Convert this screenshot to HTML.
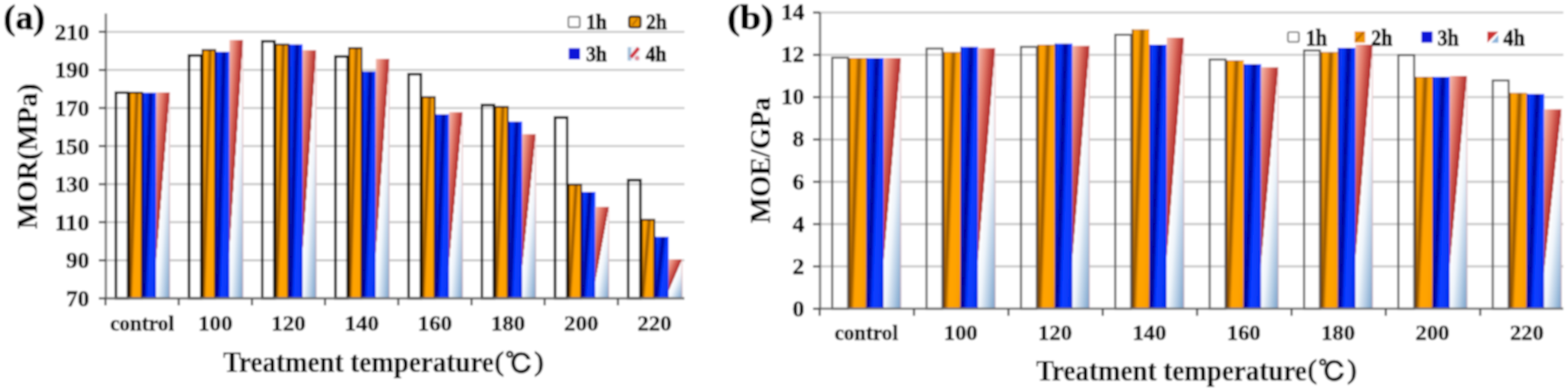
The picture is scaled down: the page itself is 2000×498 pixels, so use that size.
<!DOCTYPE html><html><head><meta charset="utf-8"><style>html,body{margin:0;padding:0;background:#fff;width:2000px;height:498px;overflow:hidden}svg{display:block;background:#fff}text{font-family:"Liberation Serif","Noto Serif CJK SC",serif;fill:#000;stroke:#000;stroke-width:1.4px}</style></head><body>
<svg width="2000" height="498" viewBox="0 0 2000 498">

<defs>
 <linearGradient id="gO" x1="0" y1="0" x2="0.8" y2="0.4" spreadMethod="repeat">
  <stop offset="0" stop-color="#ffa400"/>
  <stop offset="0.38" stop-color="#fb9e00"/>
  <stop offset="0.6" stop-color="#925400"/>
  <stop offset="0.8" stop-color="#ffa200"/>
  <stop offset="1" stop-color="#ffa400"/>
 </linearGradient>
 <linearGradient id="gB" x1="0" y1="0" x2="0.8" y2="0.4" spreadMethod="repeat">
  <stop offset="0" stop-color="#0a40ff"/>
  <stop offset="0.36" stop-color="#0532f2"/>
  <stop offset="0.62" stop-color="#000090"/>
  <stop offset="0.84" stop-color="#0536ff"/>
  <stop offset="1" stop-color="#0a40ff"/>
 </linearGradient>
 <linearGradient id="gR" x1="0" y1="0" x2="0.8924" y2="1.0883">
  <stop offset="0" stop-color="#f4bcb0"/>
  <stop offset="0.22" stop-color="#e07666"/>
  <stop offset="0.44" stop-color="#b02828"/>
  <stop offset="0.4506" stop-color="#ffffff"/>
  <stop offset="0.6" stop-color="#eef4fa"/>
  <stop offset="0.8" stop-color="#b2cbe4"/>
  <stop offset="1" stop-color="#729ec9"/>
 </linearGradient>
</defs>
<defs><filter id="bl" x="0" y="0" width="1" height="1"><feGaussianBlur stdDeviation="0.8"/></filter></defs><g filter="url(#bl)"><rect width="2000" height="498" fill="#fff"/>
<line x1="135" y1="332.39" x2="873" y2="332.39" stroke="#c8c8c8" stroke-width="2.6"/>
<line x1="135" y1="283.77" x2="873" y2="283.77" stroke="#c8c8c8" stroke-width="2.6"/>
<line x1="135" y1="235.16" x2="873" y2="235.16" stroke="#c8c8c8" stroke-width="2.6"/>
<line x1="135" y1="186.54" x2="873" y2="186.54" stroke="#c8c8c8" stroke-width="2.6"/>
<line x1="135" y1="137.93" x2="873" y2="137.93" stroke="#c8c8c8" stroke-width="2.6"/>
<line x1="135" y1="89.31" x2="873" y2="89.31" stroke="#c8c8c8" stroke-width="2.6"/>
<line x1="135" y1="40.7" x2="873" y2="40.7" stroke="#c8c8c8" stroke-width="2.6"/>
<rect x="147.8" y="118.4" width="15.5" height="262.6" fill="none" stroke="#000" stroke-width="3.2"/>
<rect x="164.3" y="117.4" width="17.5" height="263.6" fill="url(#gO)"/>
<rect x="165.1" y="118.2" width="15.9" height="262.8" fill="none" stroke="#1a0c00" stroke-width="2.4" stroke-opacity="0.9"/>
<rect x="181.8" y="118.4" width="17.5" height="262.6" fill="url(#gB)"/>
<rect x="181.8" y="118.4" width="1.6" height="262.6" fill="#00008a"/>
<rect x="199.3" y="118" width="17.5" height="263" fill="url(#gR)"/>
<rect x="215.6" y="118" width="1.2" height="263" fill="#e8a8a8" opacity="0.7"/>
<rect x="241.16" y="70.8" width="15.5" height="310.2" fill="none" stroke="#000" stroke-width="3.2"/>
<rect x="257.66" y="63.1" width="17.5" height="317.9" fill="url(#gO)"/>
<rect x="258.46" y="63.9" width="15.9" height="317.1" fill="none" stroke="#1a0c00" stroke-width="2.4" stroke-opacity="0.9"/>
<rect x="275.16" y="66.2" width="17.5" height="314.8" fill="url(#gB)"/>
<rect x="275.16" y="66.2" width="1.6" height="314.8" fill="#00008a"/>
<rect x="292.66" y="51.1" width="17.5" height="329.9" fill="url(#gR)"/>
<rect x="308.96" y="51.1" width="1.2" height="329.9" fill="#e8a8a8" opacity="0.7"/>
<rect x="334.52" y="52.7" width="15.5" height="328.3" fill="none" stroke="#000" stroke-width="3.2"/>
<rect x="351.02" y="56.1" width="17.5" height="324.9" fill="url(#gO)"/>
<rect x="351.82" y="56.9" width="15.9" height="324.1" fill="none" stroke="#1a0c00" stroke-width="2.4" stroke-opacity="0.9"/>
<rect x="368.52" y="56.7" width="17.5" height="324.3" fill="url(#gB)"/>
<rect x="368.52" y="56.7" width="1.6" height="324.3" fill="#00008a"/>
<rect x="386.02" y="64.1" width="17.5" height="316.9" fill="url(#gR)"/>
<rect x="402.32" y="64.1" width="1.2" height="316.9" fill="#e8a8a8" opacity="0.7"/>
<rect x="427.88" y="72.2" width="15.5" height="308.8" fill="none" stroke="#000" stroke-width="3.2"/>
<rect x="444.38" y="60.7" width="17.5" height="320.3" fill="url(#gO)"/>
<rect x="445.18" y="61.5" width="15.9" height="319.5" fill="none" stroke="#1a0c00" stroke-width="2.4" stroke-opacity="0.9"/>
<rect x="461.88" y="91.3" width="17.5" height="289.7" fill="url(#gB)"/>
<rect x="461.88" y="91.3" width="1.6" height="289.7" fill="#00008a"/>
<rect x="479.38" y="75.2" width="17.5" height="305.8" fill="url(#gR)"/>
<rect x="495.68" y="75.2" width="1.2" height="305.8" fill="#e8a8a8" opacity="0.7"/>
<rect x="521.24" y="94.7" width="15.5" height="286.3" fill="none" stroke="#000" stroke-width="3.2"/>
<rect x="537.74" y="123.2" width="17.5" height="257.8" fill="url(#gO)"/>
<rect x="538.54" y="124" width="15.9" height="257" fill="none" stroke="#1a0c00" stroke-width="2.4" stroke-opacity="0.9"/>
<rect x="555.24" y="145.9" width="17.5" height="235.1" fill="url(#gB)"/>
<rect x="555.24" y="145.9" width="1.6" height="235.1" fill="#00008a"/>
<rect x="572.74" y="143.3" width="17.5" height="237.7" fill="url(#gR)"/>
<rect x="589.04" y="143.3" width="1.2" height="237.7" fill="#e8a8a8" opacity="0.7"/>
<rect x="614.6" y="134.2" width="15.5" height="246.8" fill="none" stroke="#000" stroke-width="3.2"/>
<rect x="631.1" y="135.8" width="17.5" height="245.2" fill="url(#gO)"/>
<rect x="631.9" y="136.6" width="15.9" height="244.4" fill="none" stroke="#1a0c00" stroke-width="2.4" stroke-opacity="0.9"/>
<rect x="648.6" y="155.3" width="17.5" height="225.7" fill="url(#gB)"/>
<rect x="648.6" y="155.3" width="1.6" height="225.7" fill="#00008a"/>
<rect x="666.1" y="171.4" width="17.5" height="209.6" fill="url(#gR)"/>
<rect x="682.4" y="171.4" width="1.2" height="209.6" fill="#e8a8a8" opacity="0.7"/>
<rect x="707.96" y="150.1" width="15.5" height="230.9" fill="none" stroke="#000" stroke-width="3.2"/>
<rect x="724.46" y="235.1" width="17.5" height="145.9" fill="url(#gO)"/>
<rect x="725.26" y="235.9" width="15.9" height="145.1" fill="none" stroke="#1a0c00" stroke-width="2.4" stroke-opacity="0.9"/>
<rect x="741.96" y="245.1" width="17.5" height="135.9" fill="url(#gB)"/>
<rect x="741.96" y="245.1" width="1.6" height="135.9" fill="#00008a"/>
<rect x="759.46" y="264.2" width="17.5" height="116.8" fill="url(#gR)"/>
<rect x="775.76" y="264.2" width="1.2" height="116.8" fill="#e8a8a8" opacity="0.7"/>
<rect x="801.32" y="230" width="15.5" height="151" fill="none" stroke="#000" stroke-width="3.2"/>
<rect x="817.82" y="279.9" width="17.5" height="101.1" fill="url(#gO)"/>
<rect x="818.62" y="280.7" width="15.9" height="100.3" fill="none" stroke="#1a0c00" stroke-width="2.4" stroke-opacity="0.9"/>
<rect x="835.32" y="302.4" width="17.5" height="78.6" fill="url(#gB)"/>
<rect x="835.32" y="302.4" width="1.6" height="78.6" fill="#00008a"/>
<rect x="852.82" y="331.2" width="17.5" height="49.8" fill="url(#gR)"/>
<rect x="869.12" y="331.2" width="1.2" height="49.8" fill="#e8a8a8" opacity="0.7"/>
<line x1="135" y1="17.3" x2="135" y2="382" stroke="#707070" stroke-width="2.8"/>
<line x1="134" y1="381" x2="873" y2="381" stroke="#707070" stroke-width="2.8"/>
<line x1="126" y1="381" x2="135" y2="381" stroke="#444" stroke-width="2.6"/>
<line x1="126" y1="332.39" x2="135" y2="332.39" stroke="#444" stroke-width="2.6"/>
<line x1="126" y1="283.77" x2="135" y2="283.77" stroke="#444" stroke-width="2.6"/>
<line x1="126" y1="235.16" x2="135" y2="235.16" stroke="#444" stroke-width="2.6"/>
<line x1="126" y1="186.54" x2="135" y2="186.54" stroke="#444" stroke-width="2.6"/>
<line x1="126" y1="137.93" x2="135" y2="137.93" stroke="#444" stroke-width="2.6"/>
<line x1="126" y1="89.31" x2="135" y2="89.31" stroke="#444" stroke-width="2.6"/>
<line x1="126" y1="40.7" x2="135" y2="40.7" stroke="#444" stroke-width="2.6"/>
<line x1="134.6" y1="381" x2="134.6" y2="390" stroke="#444" stroke-width="2.6"/>
<line x1="227.96" y1="381" x2="227.96" y2="390" stroke="#444" stroke-width="2.6"/>
<line x1="321.32" y1="381" x2="321.32" y2="390" stroke="#444" stroke-width="2.6"/>
<line x1="414.68" y1="381" x2="414.68" y2="390" stroke="#444" stroke-width="2.6"/>
<line x1="508.04" y1="381" x2="508.04" y2="390" stroke="#444" stroke-width="2.6"/>
<line x1="601.4" y1="381" x2="601.4" y2="390" stroke="#444" stroke-width="2.6"/>
<line x1="694.76" y1="381" x2="694.76" y2="390" stroke="#444" stroke-width="2.6"/>
<line x1="788.12" y1="381" x2="788.12" y2="390" stroke="#444" stroke-width="2.6"/>
<line x1="1046" y1="340.17" x2="1994" y2="340.17" stroke="#c8c8c8" stroke-width="2.6"/>
<line x1="1046" y1="286.14" x2="1994" y2="286.14" stroke="#c8c8c8" stroke-width="2.6"/>
<line x1="1046" y1="232.11" x2="1994" y2="232.11" stroke="#c8c8c8" stroke-width="2.6"/>
<line x1="1046" y1="178.09" x2="1994" y2="178.09" stroke="#c8c8c8" stroke-width="2.6"/>
<line x1="1046" y1="124.06" x2="1994" y2="124.06" stroke="#c8c8c8" stroke-width="2.6"/>
<line x1="1046" y1="70.03" x2="1994" y2="70.03" stroke="#c8c8c8" stroke-width="2.6"/>
<line x1="1046" y1="16" x2="1994" y2="16" stroke="#c8c8c8" stroke-width="2.6"/>
<rect x="1061.5" y="73.7" width="20.2" height="320.5" fill="none" stroke="#5a5a5a" stroke-width="2.6"/>
<rect x="1082.7" y="74.1" width="22.2" height="320.1" fill="url(#gO)"/>
<rect x="1082.7" y="74.1" width="1.8" height="320.1" fill="#5a3400"/>
<rect x="1082.7" y="74.1" width="22.2" height="1.2" fill="#a06000" opacity="0.6"/>
<rect x="1104.9" y="74.1" width="22.2" height="320.1" fill="url(#gB)"/>
<rect x="1104.9" y="74.1" width="1.6" height="320.1" fill="#00008a"/>
<rect x="1127.1" y="74.1" width="22.2" height="320.1" fill="url(#gR)"/>
<rect x="1148.1" y="74.1" width="1.2" height="320.1" fill="#e8a8a8" opacity="0.7"/>
<rect x="1181.86" y="62" width="20.2" height="332.2" fill="none" stroke="#5a5a5a" stroke-width="2.6"/>
<rect x="1203.06" y="66.6" width="22.2" height="327.6" fill="url(#gO)"/>
<rect x="1203.06" y="66.6" width="1.8" height="327.6" fill="#5a3400"/>
<rect x="1203.06" y="66.6" width="22.2" height="1.2" fill="#a06000" opacity="0.6"/>
<rect x="1225.26" y="59.8" width="22.2" height="334.4" fill="url(#gB)"/>
<rect x="1225.26" y="59.8" width="1.6" height="334.4" fill="#00008a"/>
<rect x="1247.46" y="61.5" width="22.2" height="332.7" fill="url(#gR)"/>
<rect x="1268.46" y="61.5" width="1.2" height="332.7" fill="#e8a8a8" opacity="0.7"/>
<rect x="1302.22" y="59.9" width="20.2" height="334.3" fill="none" stroke="#5a5a5a" stroke-width="2.6"/>
<rect x="1323.42" y="57" width="22.2" height="337.2" fill="url(#gO)"/>
<rect x="1323.42" y="57" width="1.8" height="337.2" fill="#5a3400"/>
<rect x="1323.42" y="57" width="22.2" height="1.2" fill="#a06000" opacity="0.6"/>
<rect x="1345.62" y="55.7" width="22.2" height="338.5" fill="url(#gB)"/>
<rect x="1345.62" y="55.7" width="1.6" height="338.5" fill="#00008a"/>
<rect x="1367.82" y="58.6" width="22.2" height="335.6" fill="url(#gR)"/>
<rect x="1388.82" y="58.6" width="1.2" height="335.6" fill="#e8a8a8" opacity="0.7"/>
<rect x="1422.58" y="44.3" width="20.2" height="349.9" fill="none" stroke="#5a5a5a" stroke-width="2.6"/>
<rect x="1443.78" y="37.7" width="22.2" height="356.5" fill="url(#gO)"/>
<rect x="1443.78" y="37.7" width="1.8" height="356.5" fill="#5a3400"/>
<rect x="1443.78" y="37.7" width="22.2" height="1.2" fill="#a06000" opacity="0.6"/>
<rect x="1465.98" y="57" width="22.2" height="337.2" fill="url(#gB)"/>
<rect x="1465.98" y="57" width="1.6" height="337.2" fill="#00008a"/>
<rect x="1488.18" y="48.1" width="22.2" height="346.1" fill="url(#gR)"/>
<rect x="1509.18" y="48.1" width="1.2" height="346.1" fill="#e8a8a8" opacity="0.7"/>
<rect x="1542.94" y="76" width="20.2" height="318.2" fill="none" stroke="#5a5a5a" stroke-width="2.6"/>
<rect x="1564.14" y="77" width="22.2" height="317.2" fill="url(#gO)"/>
<rect x="1564.14" y="77" width="1.8" height="317.2" fill="#5a3400"/>
<rect x="1564.14" y="77" width="22.2" height="1.2" fill="#a06000" opacity="0.6"/>
<rect x="1586.34" y="81.9" width="22.2" height="312.3" fill="url(#gB)"/>
<rect x="1586.34" y="81.9" width="1.6" height="312.3" fill="#00008a"/>
<rect x="1608.54" y="85.9" width="22.2" height="308.3" fill="url(#gR)"/>
<rect x="1629.54" y="85.9" width="1.2" height="308.3" fill="#e8a8a8" opacity="0.7"/>
<rect x="1663.3" y="64.4" width="20.2" height="329.8" fill="none" stroke="#5a5a5a" stroke-width="2.6"/>
<rect x="1684.5" y="66.6" width="22.2" height="327.6" fill="url(#gO)"/>
<rect x="1684.5" y="66.6" width="1.8" height="327.6" fill="#5a3400"/>
<rect x="1684.5" y="66.6" width="22.2" height="1.2" fill="#a06000" opacity="0.6"/>
<rect x="1706.7" y="61" width="22.2" height="333.2" fill="url(#gB)"/>
<rect x="1706.7" y="61" width="1.6" height="333.2" fill="#00008a"/>
<rect x="1728.9" y="57" width="22.2" height="337.2" fill="url(#gR)"/>
<rect x="1749.9" y="57" width="1.2" height="337.2" fill="#e8a8a8" opacity="0.7"/>
<rect x="1783.66" y="70.3" width="20.2" height="323.9" fill="none" stroke="#5a5a5a" stroke-width="2.6"/>
<rect x="1804.86" y="98.2" width="22.2" height="296" fill="url(#gO)"/>
<rect x="1804.86" y="98.2" width="1.8" height="296" fill="#5a3400"/>
<rect x="1804.86" y="98.2" width="22.2" height="1.2" fill="#a06000" opacity="0.6"/>
<rect x="1827.06" y="98.2" width="22.2" height="296" fill="url(#gB)"/>
<rect x="1827.06" y="98.2" width="1.6" height="296" fill="#00008a"/>
<rect x="1849.26" y="97" width="22.2" height="297.2" fill="url(#gR)"/>
<rect x="1870.26" y="97" width="1.2" height="297.2" fill="#e8a8a8" opacity="0.7"/>
<rect x="1904.02" y="102.8" width="20.2" height="291.4" fill="none" stroke="#5a5a5a" stroke-width="2.6"/>
<rect x="1925.22" y="118.7" width="22.2" height="275.5" fill="url(#gO)"/>
<rect x="1925.22" y="118.7" width="1.8" height="275.5" fill="#5a3400"/>
<rect x="1925.22" y="118.7" width="22.2" height="1.2" fill="#a06000" opacity="0.6"/>
<rect x="1947.42" y="119.9" width="22.2" height="274.3" fill="url(#gB)"/>
<rect x="1947.42" y="119.9" width="1.6" height="274.3" fill="#00008a"/>
<rect x="1969.62" y="139.6" width="22.2" height="254.6" fill="url(#gR)"/>
<rect x="1990.62" y="139.6" width="1.2" height="254.6" fill="#e8a8a8" opacity="0.7"/>
<line x1="1046" y1="16" x2="1046" y2="395.2" stroke="#707070" stroke-width="2.8"/>
<line x1="1045" y1="394.2" x2="1994" y2="394.2" stroke="#707070" stroke-width="2.8"/>
<line x1="1037" y1="394.2" x2="1046" y2="394.2" stroke="#444" stroke-width="2.6"/>
<line x1="1037" y1="340.17" x2="1046" y2="340.17" stroke="#444" stroke-width="2.6"/>
<line x1="1037" y1="286.14" x2="1046" y2="286.14" stroke="#444" stroke-width="2.6"/>
<line x1="1037" y1="232.11" x2="1046" y2="232.11" stroke="#444" stroke-width="2.6"/>
<line x1="1037" y1="178.09" x2="1046" y2="178.09" stroke="#444" stroke-width="2.6"/>
<line x1="1037" y1="124.06" x2="1046" y2="124.06" stroke="#444" stroke-width="2.6"/>
<line x1="1037" y1="70.03" x2="1046" y2="70.03" stroke="#444" stroke-width="2.6"/>
<line x1="1037" y1="16" x2="1046" y2="16" stroke="#444" stroke-width="2.6"/>
<line x1="1045.5" y1="394.2" x2="1045.5" y2="403.2" stroke="#444" stroke-width="2.6"/>
<line x1="1165.86" y1="394.2" x2="1165.86" y2="403.2" stroke="#444" stroke-width="2.6"/>
<line x1="1286.22" y1="394.2" x2="1286.22" y2="403.2" stroke="#444" stroke-width="2.6"/>
<line x1="1406.58" y1="394.2" x2="1406.58" y2="403.2" stroke="#444" stroke-width="2.6"/>
<line x1="1526.94" y1="394.2" x2="1526.94" y2="403.2" stroke="#444" stroke-width="2.6"/>
<line x1="1647.3" y1="394.2" x2="1647.3" y2="403.2" stroke="#444" stroke-width="2.6"/>
<line x1="1767.66" y1="394.2" x2="1767.66" y2="403.2" stroke="#444" stroke-width="2.6"/>
<line x1="1888.02" y1="394.2" x2="1888.02" y2="403.2" stroke="#444" stroke-width="2.6"/>
<rect x="725" y="21.4" width="14.5" height="13.5" rx="2" fill="#fff" stroke="#7a7a7a" stroke-width="2.2"/>
<rect x="802.6" y="21.1" width="14.4" height="13.9" rx="2.5" fill="#f09a00" stroke="#1e1000" stroke-width="2.6"/>
<path d="M806.3 32.3 L813.3 23.8" stroke="#b86a00" stroke-width="2.2"/>
<rect x="725.4" y="61.4" width="14.5" height="14.5" rx="1" fill="#0a14d8"/>
<rect x="800.6" y="59.3" width="16" height="19" fill="#f4f8fc"/>
<rect x="800.6" y="60.3" width="4.5" height="17" fill="#a6c2dc"/>
<path d="M804.6 73.3 L814.6 61.3" stroke="#d23040" stroke-width="4.5"/>
<circle cx="812.6" cy="74.3" r="3" fill="#e0909c"/>
<rect x="1642.8" y="41" width="14" height="12.5" rx="2" fill="#fff" stroke="#7a7a7a" stroke-width="2.2"/>
<rect x="1727.8" y="40" width="13.5" height="14.5" fill="#ee9400"/>
<path d="M1728.8 52.5 L1739.3 41" stroke="#b05e00" stroke-width="3" opacity="0.8"/>
<rect x="1812.9" y="40.2" width="14.3" height="14.3" rx="1" fill="#0a14d8"/>
<path d="M1897.2 40.5 L1911.2 40.5 L1897.2 54.5 Z" fill="#cc3030"/>
<path d="M1911.2 44.5 L1911.2 54.5 L1902.2 54.5 Z" fill="#8ab2da"/>
<text x="4.5" y="36.6" font-size="45" font-weight="bold" text-anchor="start" textLength="53" lengthAdjust="spacingAndGlyphs" style="stroke-width:0.9px">(a)</text>
<text x="927.5" y="36.8" font-size="44.5" font-weight="bold" text-anchor="start" textLength="59.5" lengthAdjust="spacingAndGlyphs" style="stroke-width:0.9px">(b)</text>
<text x="114" y="391.1" font-size="30" font-weight="bold" text-anchor="end" textLength="29.8" lengthAdjust="spacingAndGlyphs" style="stroke-width:0.45px">70</text>
<text x="114" y="342.49" font-size="30" font-weight="bold" text-anchor="end" textLength="29.8" lengthAdjust="spacingAndGlyphs" style="stroke-width:0.45px">90</text>
<text x="114" y="293.87" font-size="30" font-weight="bold" text-anchor="end" textLength="44.3" lengthAdjust="spacingAndGlyphs" style="stroke-width:0.45px">110</text>
<text x="114" y="245.26" font-size="30" font-weight="bold" text-anchor="end" textLength="44.3" lengthAdjust="spacingAndGlyphs" style="stroke-width:0.45px">130</text>
<text x="114" y="196.64" font-size="30" font-weight="bold" text-anchor="end" textLength="44.3" lengthAdjust="spacingAndGlyphs" style="stroke-width:0.45px">150</text>
<text x="114" y="148.03" font-size="30" font-weight="bold" text-anchor="end" textLength="44.3" lengthAdjust="spacingAndGlyphs" style="stroke-width:0.45px">170</text>
<text x="114" y="99.41" font-size="30" font-weight="bold" text-anchor="end" textLength="44.3" lengthAdjust="spacingAndGlyphs" style="stroke-width:0.45px">190</text>
<text x="114" y="50.8" font-size="30" font-weight="bold" text-anchor="end" textLength="44.3" lengthAdjust="spacingAndGlyphs" style="stroke-width:0.45px">210</text>
<text x="1026" y="403.6" font-size="30" font-weight="bold" text-anchor="end" textLength="15.2" lengthAdjust="spacingAndGlyphs" style="stroke-width:0.45px">0</text>
<text x="1026" y="349.57" font-size="30" font-weight="bold" text-anchor="end" textLength="15.2" lengthAdjust="spacingAndGlyphs" style="stroke-width:0.45px">2</text>
<text x="1026" y="295.54" font-size="30" font-weight="bold" text-anchor="end" textLength="15.2" lengthAdjust="spacingAndGlyphs" style="stroke-width:0.45px">4</text>
<text x="1026" y="241.51" font-size="30" font-weight="bold" text-anchor="end" textLength="15.2" lengthAdjust="spacingAndGlyphs" style="stroke-width:0.45px">6</text>
<text x="1026" y="187.49" font-size="30" font-weight="bold" text-anchor="end" textLength="15.2" lengthAdjust="spacingAndGlyphs" style="stroke-width:0.45px">8</text>
<text x="1026" y="133.46" font-size="30" font-weight="bold" text-anchor="end" textLength="29.8" lengthAdjust="spacingAndGlyphs" style="stroke-width:0.45px">10</text>
<text x="1026" y="79.43" font-size="30" font-weight="bold" text-anchor="end" textLength="29.8" lengthAdjust="spacingAndGlyphs" style="stroke-width:0.45px">12</text>
<text x="1026" y="25.4" font-size="30" font-weight="bold" text-anchor="end" textLength="29.8" lengthAdjust="spacingAndGlyphs" style="stroke-width:0.45px">14</text>
<text x="181.28" y="422" font-size="28" font-weight="bold" text-anchor="middle" textLength="81.8" lengthAdjust="spacingAndGlyphs" style="stroke-width:0.45px">control</text>
<text x="1104.98" y="434" font-size="28" font-weight="bold" text-anchor="middle" textLength="81.2" lengthAdjust="spacingAndGlyphs" style="stroke-width:0.45px">control</text>
<text x="274.64" y="422" font-size="28" font-weight="bold" text-anchor="middle" textLength="43.8" lengthAdjust="spacingAndGlyphs" style="stroke-width:0.45px">100</text>
<text x="1225.34" y="434" font-size="28" font-weight="bold" text-anchor="middle" textLength="43.2" lengthAdjust="spacingAndGlyphs" style="stroke-width:0.45px">100</text>
<text x="368" y="422" font-size="28" font-weight="bold" text-anchor="middle" textLength="43.8" lengthAdjust="spacingAndGlyphs" style="stroke-width:0.45px">120</text>
<text x="1345.7" y="434" font-size="28" font-weight="bold" text-anchor="middle" textLength="43.2" lengthAdjust="spacingAndGlyphs" style="stroke-width:0.45px">120</text>
<text x="461.36" y="422" font-size="28" font-weight="bold" text-anchor="middle" textLength="43.8" lengthAdjust="spacingAndGlyphs" style="stroke-width:0.45px">140</text>
<text x="1466.06" y="434" font-size="28" font-weight="bold" text-anchor="middle" textLength="43.2" lengthAdjust="spacingAndGlyphs" style="stroke-width:0.45px">140</text>
<text x="554.72" y="422" font-size="28" font-weight="bold" text-anchor="middle" textLength="43.8" lengthAdjust="spacingAndGlyphs" style="stroke-width:0.45px">160</text>
<text x="1586.42" y="434" font-size="28" font-weight="bold" text-anchor="middle" textLength="43.2" lengthAdjust="spacingAndGlyphs" style="stroke-width:0.45px">160</text>
<text x="648.08" y="422" font-size="28" font-weight="bold" text-anchor="middle" textLength="43.8" lengthAdjust="spacingAndGlyphs" style="stroke-width:0.45px">180</text>
<text x="1706.78" y="434" font-size="28" font-weight="bold" text-anchor="middle" textLength="43.2" lengthAdjust="spacingAndGlyphs" style="stroke-width:0.45px">180</text>
<text x="741.44" y="422" font-size="28" font-weight="bold" text-anchor="middle" textLength="43.8" lengthAdjust="spacingAndGlyphs" style="stroke-width:0.45px">200</text>
<text x="1827.14" y="434" font-size="28" font-weight="bold" text-anchor="middle" textLength="43.2" lengthAdjust="spacingAndGlyphs" style="stroke-width:0.45px">200</text>
<text x="834.8" y="422" font-size="28" font-weight="bold" text-anchor="middle" textLength="43.8" lengthAdjust="spacingAndGlyphs" style="stroke-width:0.45px">220</text>
<text x="1947.5" y="434" font-size="28" font-weight="bold" text-anchor="middle" textLength="43.2" lengthAdjust="spacingAndGlyphs" style="stroke-width:0.45px">220</text>
<text x="284.4" y="475.3" font-size="38.5" font-weight="bold" text-anchor="start" textLength="345.5" lengthAdjust="spacingAndGlyphs" style="stroke-width:0.2px">Treatment temperature</text>
<text x="631" y="473" font-size="34.6" font-weight="normal" text-anchor="start">(</text>
<text x="644.3" y="477.2" font-size="34.3" style="font-family:IPAGothic,sans-serif" textLength="36" lengthAdjust="spacingAndGlyphs">℃</text>
<text x="681.8" y="473" font-size="34.6" font-weight="normal" text-anchor="start">)</text>
<text x="1321.4" y="485.5" font-size="38.5" font-weight="bold" text-anchor="start" textLength="345.5" lengthAdjust="spacingAndGlyphs" style="stroke-width:0.2px">Treatment temperature</text>
<text x="1668" y="483.2" font-size="34.6" font-weight="normal" text-anchor="start">(</text>
<text x="1681.3" y="487.4" font-size="34.3" style="font-family:IPAGothic,sans-serif" textLength="36" lengthAdjust="spacingAndGlyphs">℃</text>
<text x="1718.8" y="483.2" font-size="34.6" font-weight="normal" text-anchor="start">)</text>
<text transform="translate(46.6,199.6) rotate(-90)" x="0" y="0" font-size="36" font-weight="bold" text-anchor="middle" style="stroke-width:0.3px" textLength="186" lengthAdjust="spacingAndGlyphs">MOR(MPa)</text>
<text transform="translate(982,204.6) rotate(-90)" x="0" y="0" font-size="35.5" font-weight="bold" text-anchor="middle" style="stroke-width:0.3px" textLength="161" lengthAdjust="spacingAndGlyphs">MOE/GPa</text>
<text x="747.5" y="37.3" font-size="28" font-weight="bold" text-anchor="start" textLength="26.6" lengthAdjust="spacingAndGlyphs" style="stroke-width:0.8px">1h</text>
<text x="824" y="37.3" font-size="28" font-weight="bold" text-anchor="start" textLength="26.6" lengthAdjust="spacingAndGlyphs" style="stroke-width:0.8px">2h</text>
<text x="747.5" y="78.3" font-size="28" font-weight="bold" text-anchor="start" textLength="26.6" lengthAdjust="spacingAndGlyphs" style="stroke-width:0.8px">3h</text>
<text x="823.5" y="78.3" font-size="28" font-weight="bold" text-anchor="start" textLength="26.6" lengthAdjust="spacingAndGlyphs" style="stroke-width:0.8px">4h</text>
<text x="1665.5" y="57.8" font-size="29.5" font-weight="bold" text-anchor="start" textLength="27.2" lengthAdjust="spacingAndGlyphs" style="stroke-width:0.8px">1h</text>
<text x="1749" y="57.8" font-size="29.5" font-weight="bold" text-anchor="start" textLength="27.2" lengthAdjust="spacingAndGlyphs" style="stroke-width:0.8px">2h</text>
<text x="1833.5" y="57.8" font-size="29.5" font-weight="bold" text-anchor="start" textLength="27.2" lengthAdjust="spacingAndGlyphs" style="stroke-width:0.8px">3h</text>
<text x="1917.6" y="57.6" font-size="29.5" font-weight="bold" text-anchor="start" textLength="27.2" lengthAdjust="spacingAndGlyphs" style="stroke-width:0.8px">4h</text>
</g>
</svg></body></html>
